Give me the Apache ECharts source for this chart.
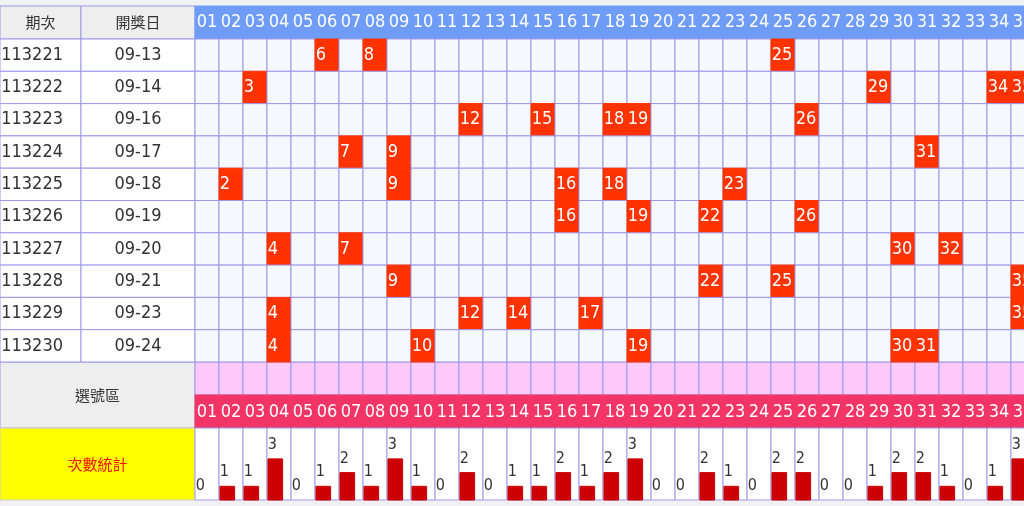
<!DOCTYPE html>
<html lang="zh-Hant">
<head>
    <meta charset="UTF-8">
    <title>539</title>
    <script src="https://cdn.jsdelivr.net/npm/echarts@6/dist/echarts.min.js"></script>
    <style>body{margin:0;background:#fff}</style>
</head>
<body>
<div id="main" style="width:1024px; height:506px"></div>
<script type="text/javascript">
    var periods = ['113221','113222','113223','113224','113225','113226','113227','113228','113229','113230'];
    var dates = ['09-13','09-14','09-16','09-17','09-18','09-19','09-20','09-21','09-23','09-24'];
    var draws = [
        [6,8,25],
        [3,29,34,35],
        [12,15,18,19,26],
        [7,9,31],
        [2,9,16,18,23],
        [16,19,22,26],
        [4,7,30,32],
        [9,22,25,35],
        [4,12,14,17,35],
        [4,10,19,30,31]
    ];
    var numbers = [];
    for (var i = 1; i <= 35; i++) numbers.push(i < 10 ? '0' + i : '' + i);
    var counts = [0,1,1,3,0,1,2,1,3,1,0,2,0,1,1,2,1,2,3,0,0,2,1,0,2,2,0,0,1,2,2,1,0,1,3];

    var NUMFONT = '"Liberation Sans Narrow","DejaVu Sans Condensed",sans-serif';
    var CJK = '"Noto Sans CJK TC",sans-serif';
    var LINE = '#9d98ea';

    // x unit = one number column (24px); column n spans [n-1, n]
    var COL0 = -8.125, COL1 = -4.75;   // 期次 | 開獎日 | numbers
    var HEAD = [6, 39], ROWH = 32.3, PINK = [362, 395], RED = [395, 428], CNT = [428, 500];

    var myChart = echarts.init(document.getElementById('main'));

    function box(api, x0, x1, y0, y1, fill, stroke) {
        var a = api.coord([x0, y0]), b = api.coord([x1, y1]);
        return {type: 'rect', shape: {x: a[0], y: a[1], width: b[0] - a[0], height: b[1] - a[1]},
            style: {fill: fill, stroke: stroke || LINE, lineWidth: 1}};
    }
    function txt(api, x, y, s, color, font, size, align) {
        var p = api.coord([x, y]);
        return {type: 'text', x: p[0], y: p[1], style: {text: s, fill: color, fontFamily: font,
            fontSize: size, align: align || 'center', verticalAlign: 'middle'}};
    }

    // 表格格子
    var cells = [];
    cells.push(function (api) {
        var g = [box(api, COL0, COL1, HEAD[0], HEAD[1], '#eeeeee'), txt(api, (COL0 + COL1) / 2, 22, '期次', '#333', CJK, 15),
                 box(api, COL1, 0, HEAD[0], HEAD[1], '#eeeeee'), txt(api, COL1 / 2, 22, '開獎日', '#333', CJK, 15),
                 box(api, COL0, 0, PINK[0], RED[1], '#eeeeee'), txt(api, COL0 / 2, 395, '選號區', '#333', CJK, 15),
                 box(api, COL0, 0, CNT[0], CNT[1], '#ffff00', '#cccccc'), txt(api, COL0 / 2, 464, '次數統計', '#ee1100', CJK, 15)];
        for (var n = 1; n <= 35; n++) {
            g.push(box(api, n - 1, n, HEAD[0], HEAD[1], '#6e9cf6', '#6e9cf6'));
            g.push(txt(api, n - 0.5, 22, numbers[n - 1], '#fff', NUMFONT, 18));
            g.push(box(api, n - 1, n, PINK[0], PINK[1], '#ffc9f9'));
            g.push(box(api, n - 1, n, RED[0], RED[1], '#f23466', '#f23466'));
            g.push(txt(api, n - 0.5, 412, numbers[n - 1], '#fff', NUMFONT, 18));
            g.push(box(api, n - 1, n, CNT[0], CNT[1], '#ffffff'));
        }
        for (var r = 0; r < periods.length; r++) {
            var y0 = HEAD[1] + r * ROWH, y1 = y0 + ROWH, ym = (y0 + y1) / 2;
            g.push(box(api, COL0, COL1, y0, y1, '#ffffff'));
            g.push(txt(api, COL0 + 0.05, ym, periods[r], '#333', NUMFONT, 18, 'left'));
            g.push(box(api, COL1, 0, y0, y1, '#ffffff'));
            g.push(txt(api, COL1 / 2, ym, dates[r], '#333', NUMFONT, 18));
            for (var n2 = 1; n2 <= 35; n2++) {
                var hit = draws[r].indexOf(n2) >= 0;
                g.push(box(api, n2 - 1, n2, y0, y1, hit ? '#ff3300' : '#f5f8fd', hit ? '#ff3300' : LINE));
                if (hit) g.push(txt(api, n2 - 0.97, ym, '' + n2, '#fff', NUMFONT, 18, 'left'));
            }
        }
        return {type: 'group', children: g};
    });

    var option = {
        backgroundColor: '#f2f2f4',
        animation: false,
        grid: {left: 0, right: 0, top: 0, bottom: 0},
        xAxis: {type: 'value', min: COL0, max: 829 / 24, show: false},
        yAxis: {type: 'value', min: 0, max: 506, inverse: true, show: false},
        series: [{
            type: 'custom',
            data: [[0, 0]],
            renderItem: function (params, api) { return cells[0](api); },
            silent: true
        }, {
            // 次數統計柱子
            type: 'custom',
            data: counts.map(function (c, i) { return [i + 1, c]; }),
            renderItem: function (params, api) {
                var n = api.value(0), c = api.value(1);
                var top = CNT[1] - c * 13.7;
                var g = [];
                if (c > 0) g.push(box(api, n - 0.96, n - 0.35, top, CNT[1], '#cc0000', '#cc0000'));
                g.push(txt(api, n - 0.97, top - 14, '' + c, '#333', NUMFONT, 16, 'left'));
                return {type: 'group', children: g};
            },
            silent: true
        }]
    };
    myChart.setOption(option);
</script>
</body>
</html>
